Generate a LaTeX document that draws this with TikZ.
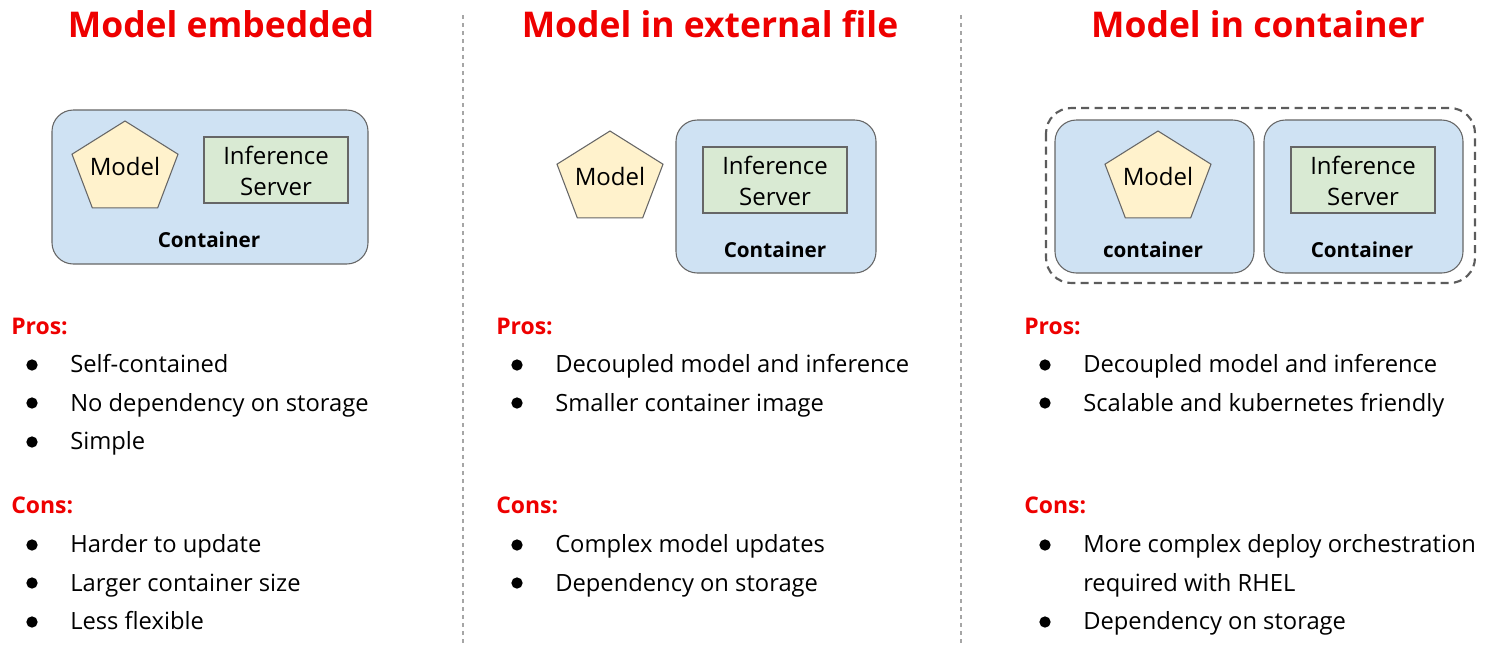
\documentclass[tikz,border=0pt]{standalone}
\usepackage{fontspec}
\setmainfont{Open Sans}
\definecolor{rhred}{HTML}{EE0000}
\definecolor{contblue}{HTML}{CFE2F3}
\definecolor{srvgreen}{HTML}{D9EAD3}
\definecolor{mdlyellow}{HTML}{FFF2CC}
\definecolor{edgegray}{HTML}{666666}
\tikzset{
  title/.style={text=rhred, font=\fontsize{26.6}{30}\selectfont\bfseries, anchor=base, inner sep=0pt},
  head/.style={text=rhred, font=\fontsize{17.2}{20}\selectfont\bfseries, anchor=base west, inner sep=0pt},
  item/.style={font=\fontsize{17.8}{21}\selectfont, anchor=base west, inner sep=0pt},
  dot/.style={circle, fill=black, inner sep=0pt, minimum size=8.5pt},
  box/.style={fill=contblue, draw=edgegray, rounded corners=16pt, line width=0.8pt},
  srv/.style={fill=srvgreen, draw=edgegray, line width=0.8pt},
  mdl/.style={fill=mdlyellow, draw=edgegray, line width=0.8pt},
  lbl/.style={font=\fontsize{18}{23.25}\selectfont, align=center, inner sep=0pt},
  cname/.style={font=\fontsize{15.5}{18}\selectfont\bfseries, anchor=base, inner sep=0pt},
  divider/.style={draw=gray!70, line width=1pt, dash pattern=on 3pt off 3pt},
  group/.style={draw=edgegray!90!black, line width=1.6pt, dash pattern=on 6pt off 4pt, rounded corners=19pt}
}
\begin{document}
\begin{tikzpicture}[x=0.75pt, y=-0.75pt]
	\useasboundingbox (0,0) rectangle (1489,644);
	%DIVIDERS
	\draw[divider] (463,15)--(463,644);
	\draw[divider] (961,15)--(961,644);

	%TITLES
	\node[title] (t1) at (221,37) {Model embedded};
	\node[title] (t2) at (710,37) {Model in external file};
	\node[title] (t3) at (1258,37) {Model in container};

	%LEFT PART
	\draw[box] (52,110) rectangle (368,264);
	\draw[mdl, shift={(125,169)}] (0,-48)--(53,-14.8)--(32.7,38.8)--(-32.7,38.8)--(-53,-14.8)--cycle;
	\node[lbl, anchor=base] (m1) at (125,175) {Model};
	\draw[srv] (204,137) rectangle (348,203);
	\node[lbl] (s1) at (276,170.5) {Inference\\Server};
	\node[cname] (c1) at (209,247) {Container};

	%MIDDLE PART
	\draw[mdl, shift={(610,179)}] (0,-48)--(53,-14.8)--(32.7,38.8)--(-32.7,38.8)--(-53,-14.8)--cycle;
	\node[lbl, anchor=base] (m2) at (610,185) {Model};
	\draw[box] (676,120) rectangle (876,273);
	\draw[srv] (703,147) rectangle (847,213);
	\node[lbl] (s2) at (775,180.5) {Inference\\Server};
	\node[cname] (c2) at (775,257) {Container};

	%RIGHT PART
	\draw[group] (1046,108) rectangle (1475,283);
	\draw[box] (1055,120) rectangle (1254,273);
	\draw[box] (1264,120) rectangle (1463,273);
	\draw[mdl, shift={(1158,179)}] (0,-48)--(53,-14.8)--(32.7,38.8)--(-32.7,38.8)--(-53,-14.8)--cycle;
	\node[lbl, anchor=base] (m3) at (1158,185) {Model};
	\node[cname] (c3) at (1153,257) {container};
	\draw[srv] (1291,147) rectangle (1435,213);
	\node[lbl] (s3) at (1363,180.5) {Inference\\Server};
	\node[cname] (c4) at (1362,257) {Container};

	%LIST LEFT
	\node[head] (pros1) at (11,334) {Pros:};
	\node[dot] (b1a) at (32,365) {};
	\node[dot] (b1b) at (32,403) {};
	\node[dot] (b1c) at (32,442) {};
	\node[item] (p1a) at (70,372) {Self-contained};
	\node[item] (p1b) at (70,411) {No dependency on storage};
	\node[item] (p1c) at (70,449) {Simple};
	\node[head] (cons1) at (11,513) {Cons:};
	\node[dot] (d1a) at (32,545) {};
	\node[dot] (d1b) at (32,583) {};
	\node[dot] (d1c) at (32,622) {};
	\node[item] (n1a) at (70,552) {Harder to update};
	\node[item] (n1b) at (70,591) {Larger container size};
	\node[item] (n1c) at (70,629) {Less flexible};

	%LIST MIDDLE
	\node[head] (pros2) at (496,334) {Pros:};
	\node[dot] (b2a) at (517,365) {};
	\node[dot] (b2b) at (517,403) {};
	\node[item] (p2a) at (555,372) {Decoupled model and inference};
	\node[item] (p2b) at (555,411) {Smaller container image};
	\node[head] (cons2) at (496,513) {Cons:};
	\node[dot] (d2a) at (517,545) {};
	\node[dot] (d2b) at (517,583) {};
	\node[item] (n2a) at (555,552) {Complex model updates};
	\node[item] (n2b) at (555,591) {Dependency on storage};

	%LIST RIGHT
	\node[head] (pros3) at (1024,334) {Pros:};
	\node[dot] (b3a) at (1045,365) {};
	\node[dot] (b3b) at (1045,403) {};
	\node[item] (p3a) at (1083,372) {Decoupled model and inference};
	\node[item] (p3b) at (1083,411) {Scalable and kubernetes friendly};
	\node[head] (cons3) at (1024,513) {Cons:};
	\node[dot] (d3a) at (1045,545) {};
	\node[dot] (d3b) at (1045,622) {};
	\node[item] (n3a) at (1083,552) {More complex deploy orchestration};
	\node[item] (n3b) at (1083,591) {required with RHEL};
	\node[item] (n3c) at (1083,629) {Dependency on storage};
\end{tikzpicture}
\end{document}
